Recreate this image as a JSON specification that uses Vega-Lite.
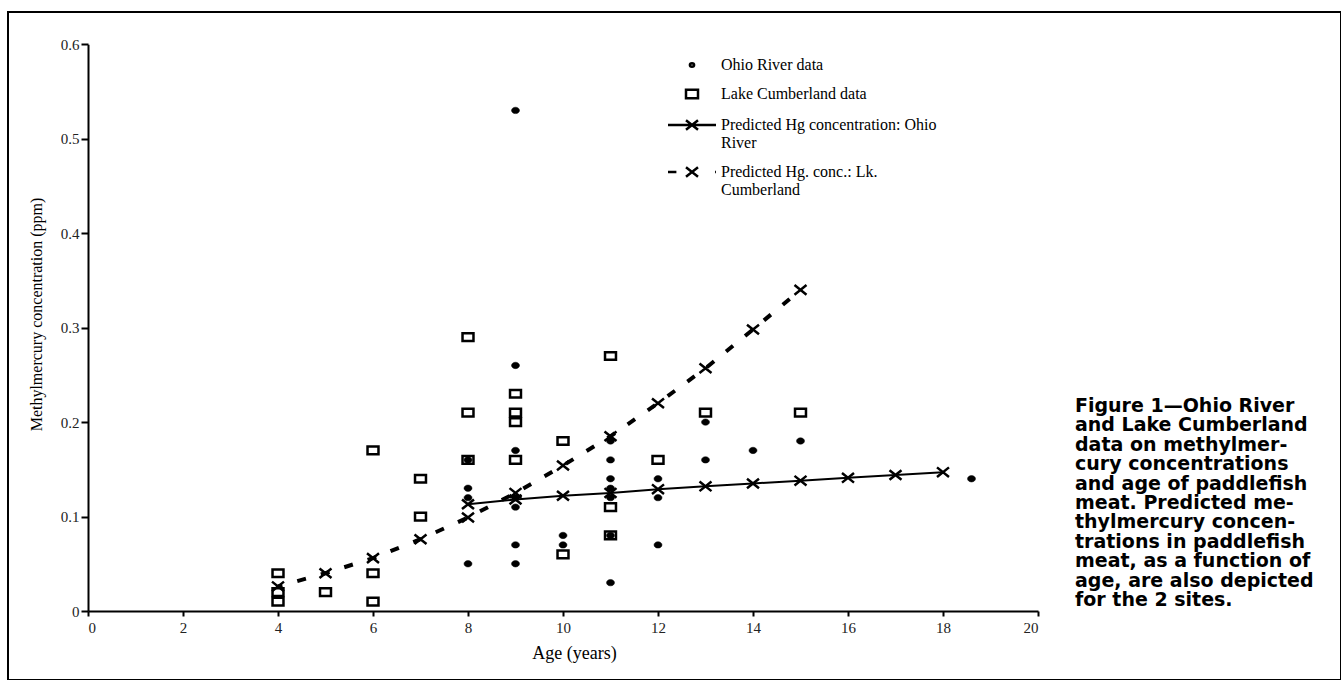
{
  "$schema": "https://vega.github.io/schema/vega-lite/v6.json",
  "autosize": "none",
  "padding": {"left": 8, "top": 12, "right": 0, "bottom": 0},
  "width": 1333,
  "height": 668,
  "background": "white",
  "config": {
    "view": {"stroke": "black", "strokeWidth": 2},
    "axis": {"grid": false, "domainColor": "black", "domainWidth": 2, "tickColor": "black", "tickWidth": 2, "labelColor": "#222", "labelFont": "Liberation Serif", "labelFontSize": 15, "titleFont": "Liberation Serif", "titleFontWeight": "normal", "titleColor": "black"}
  },
  "title": {
    "text": ["Figure 1\u2014Ohio River", "and Lake Cumberland", "data on methylmer-", "cury concentrations", "and age of paddlefish", "meat. Predicted me-", "thylmercury concen-", "trations in paddlefish", "meat, as a function of", "age, are also depicted", "for the 2 sites."],
    "orient": "top", "anchor": "start", "align": "left", "baseline": "top", "frame": "group",
    "offset": 0, "dx": 1067, "dy": 598,
    "font": "DejaVu Sans", "fontSize": 19, "fontWeight": "bold", "lineHeight": 19.4, "color": "black"
  },
  "data": {"values": [
    {"series": "Ohio River data", "kind": "observed", "age": 8, "hg": 0.16},
    {"series": "Ohio River data", "kind": "observed", "age": 8, "hg": 0.13},
    {"series": "Ohio River data", "kind": "observed", "age": 8, "hg": 0.12},
    {"series": "Ohio River data", "kind": "observed", "age": 8, "hg": 0.05},
    {"series": "Ohio River data", "kind": "observed", "age": 9, "hg": 0.53},
    {"series": "Ohio River data", "kind": "observed", "age": 9, "hg": 0.26},
    {"series": "Ohio River data", "kind": "observed", "age": 9, "hg": 0.17},
    {"series": "Ohio River data", "kind": "observed", "age": 9, "hg": 0.12},
    {"series": "Ohio River data", "kind": "observed", "age": 9, "hg": 0.11},
    {"series": "Ohio River data", "kind": "observed", "age": 9, "hg": 0.07},
    {"series": "Ohio River data", "kind": "observed", "age": 9, "hg": 0.05},
    {"series": "Ohio River data", "kind": "observed", "age": 10, "hg": 0.08},
    {"series": "Ohio River data", "kind": "observed", "age": 10, "hg": 0.07},
    {"series": "Ohio River data", "kind": "observed", "age": 11, "hg": 0.18},
    {"series": "Ohio River data", "kind": "observed", "age": 11, "hg": 0.16},
    {"series": "Ohio River data", "kind": "observed", "age": 11, "hg": 0.14},
    {"series": "Ohio River data", "kind": "observed", "age": 11, "hg": 0.13},
    {"series": "Ohio River data", "kind": "observed", "age": 11, "hg": 0.12},
    {"series": "Ohio River data", "kind": "observed", "age": 11, "hg": 0.08},
    {"series": "Ohio River data", "kind": "observed", "age": 11, "hg": 0.03},
    {"series": "Ohio River data", "kind": "observed", "age": 12, "hg": 0.14},
    {"series": "Ohio River data", "kind": "observed", "age": 12, "hg": 0.12},
    {"series": "Ohio River data", "kind": "observed", "age": 12, "hg": 0.07},
    {"series": "Ohio River data", "kind": "observed", "age": 13, "hg": 0.20},
    {"series": "Ohio River data", "kind": "observed", "age": 13, "hg": 0.16},
    {"series": "Ohio River data", "kind": "observed", "age": 14, "hg": 0.17},
    {"series": "Ohio River data", "kind": "observed", "age": 15, "hg": 0.18},
    {"series": "Ohio River data", "kind": "observed", "age": 18.6, "hg": 0.14},
    {"series": "Lake Cumberland data", "kind": "observed", "age": 4, "hg": 0.04},
    {"series": "Lake Cumberland data", "kind": "observed", "age": 4, "hg": 0.02},
    {"series": "Lake Cumberland data", "kind": "observed", "age": 4, "hg": 0.01},
    {"series": "Lake Cumberland data", "kind": "observed", "age": 5, "hg": 0.02},
    {"series": "Lake Cumberland data", "kind": "observed", "age": 6, "hg": 0.17},
    {"series": "Lake Cumberland data", "kind": "observed", "age": 6, "hg": 0.04},
    {"series": "Lake Cumberland data", "kind": "observed", "age": 6, "hg": 0.01},
    {"series": "Lake Cumberland data", "kind": "observed", "age": 7, "hg": 0.14},
    {"series": "Lake Cumberland data", "kind": "observed", "age": 7, "hg": 0.10},
    {"series": "Lake Cumberland data", "kind": "observed", "age": 8, "hg": 0.29},
    {"series": "Lake Cumberland data", "kind": "observed", "age": 8, "hg": 0.21},
    {"series": "Lake Cumberland data", "kind": "observed", "age": 8, "hg": 0.16},
    {"series": "Lake Cumberland data", "kind": "observed", "age": 9, "hg": 0.23},
    {"series": "Lake Cumberland data", "kind": "observed", "age": 9, "hg": 0.21},
    {"series": "Lake Cumberland data", "kind": "observed", "age": 9, "hg": 0.20},
    {"series": "Lake Cumberland data", "kind": "observed", "age": 9, "hg": 0.16},
    {"series": "Lake Cumberland data", "kind": "observed", "age": 10, "hg": 0.18},
    {"series": "Lake Cumberland data", "kind": "observed", "age": 10, "hg": 0.06},
    {"series": "Lake Cumberland data", "kind": "observed", "age": 11, "hg": 0.27},
    {"series": "Lake Cumberland data", "kind": "observed", "age": 11, "hg": 0.11},
    {"series": "Lake Cumberland data", "kind": "observed", "age": 11, "hg": 0.08},
    {"series": "Lake Cumberland data", "kind": "observed", "age": 12, "hg": 0.16},
    {"series": "Lake Cumberland data", "kind": "observed", "age": 13, "hg": 0.21},
    {"series": "Lake Cumberland data", "kind": "observed", "age": 15, "hg": 0.21},
    {"series": "Predicted Hg concentration: Ohio River", "kind": "predicted", "age": 8, "hg": 0.113},
    {"series": "Predicted Hg concentration: Ohio River", "kind": "predicted", "age": 9, "hg": 0.118},
    {"series": "Predicted Hg concentration: Ohio River", "kind": "predicted", "age": 10, "hg": 0.122},
    {"series": "Predicted Hg concentration: Ohio River", "kind": "predicted", "age": 11, "hg": 0.125},
    {"series": "Predicted Hg concentration: Ohio River", "kind": "predicted", "age": 12, "hg": 0.129},
    {"series": "Predicted Hg concentration: Ohio River", "kind": "predicted", "age": 13, "hg": 0.132},
    {"series": "Predicted Hg concentration: Ohio River", "kind": "predicted", "age": 14, "hg": 0.135},
    {"series": "Predicted Hg concentration: Ohio River", "kind": "predicted", "age": 15, "hg": 0.138},
    {"series": "Predicted Hg concentration: Ohio River", "kind": "predicted", "age": 16, "hg": 0.141},
    {"series": "Predicted Hg concentration: Ohio River", "kind": "predicted", "age": 17, "hg": 0.144},
    {"series": "Predicted Hg concentration: Ohio River", "kind": "predicted", "age": 18, "hg": 0.147},
    {"series": "Predicted Hg. conc.: Lk. Cumberland", "kind": "predicted", "age": 4, "hg": 0.026},
    {"series": "Predicted Hg. conc.: Lk. Cumberland", "kind": "predicted", "age": 5, "hg": 0.040},
    {"series": "Predicted Hg. conc.: Lk. Cumberland", "kind": "predicted", "age": 6, "hg": 0.056},
    {"series": "Predicted Hg. conc.: Lk. Cumberland", "kind": "predicted", "age": 7, "hg": 0.076},
    {"series": "Predicted Hg. conc.: Lk. Cumberland", "kind": "predicted", "age": 8, "hg": 0.099},
    {"series": "Predicted Hg. conc.: Lk. Cumberland", "kind": "predicted", "age": 9, "hg": 0.125},
    {"series": "Predicted Hg. conc.: Lk. Cumberland", "kind": "predicted", "age": 10, "hg": 0.154},
    {"series": "Predicted Hg. conc.: Lk. Cumberland", "kind": "predicted", "age": 11, "hg": 0.185},
    {"series": "Predicted Hg. conc.: Lk. Cumberland", "kind": "predicted", "age": 12, "hg": 0.220},
    {"series": "Predicted Hg. conc.: Lk. Cumberland", "kind": "predicted", "age": 13, "hg": 0.257},
    {"series": "Predicted Hg. conc.: Lk. Cumberland", "kind": "predicted", "age": 14, "hg": 0.298},
    {"series": "Predicted Hg. conc.: Lk. Cumberland", "kind": "predicted", "age": 15, "hg": 0.340}
  ]},
  "encoding": {
    "x": {"field": "age", "type": "quantitative",
      "scale": {"domain": [0, 20], "range": [80, 1030], "nice": false, "zero": false},
      "axis": {"title": "Age (years)", "offset": -69, "values": [0, 2, 4, 6, 8, 10, 12, 14, 16, 18, 20], "format": "~g", "tickSize": 5, "labelPadding": 4, "titleFontSize": 18, "titleX": 566, "titleY": 42, "titleBaseline": "middle", "titleAnchor": "middle"}},
    "y": {"field": "hg", "type": "quantitative",
      "scale": {"domain": [0, 0.6], "range": [599, 32.3], "nice": false, "zero": false},
      "axis": {"title": "Methylmercury concentration (ppm)", "offset": -80, "values": [0, 0.1, 0.2, 0.3, 0.4, 0.5, 0.6], "format": "~g", "tickSize": 7, "labelPadding": 2, "titleFontSize": 16, "titleX": -52, "titleY": 302, "titleBaseline": "middle", "titleAnchor": "middle"}}
  },
  "layer": [
    {
      "transform": [{"filter": "datum.series == 'Predicted Hg concentration: Ohio River'"}],
      "mark": {"type": "line", "color": "black", "strokeWidth": 2},
      "encoding": {}
    },
    {
      "transform": [{"filter": "datum.series == 'Predicted Hg. conc.: Lk. Cumberland'"}],
      "mark": {"type": "line", "color": "black", "strokeWidth": 4, "strokeDash": [9, 15.5], "strokeDashOffset": 4.5, "strokeCap": "butt"},
      "encoding": {}
    },
    {
      "transform": [{"filter": "datum.kind == 'predicted'"}],
      "mark": {"type": "point", "shape": "M-1,-0.8L1,0.8M-1,0.8L1,-0.8", "filled": false, "stroke": "black", "strokeWidth": 2.5, "size": 144, "opacity": 1},
      "encoding": {}
    },
    {
      "transform": [{"filter": "datum.kind == 'observed'"}],
      "mark": {"type": "point", "stroke": "black", "opacity": 1},
      "encoding": {
        "shape": {"field": "series", "type": "nominal",
          "scale": {"domain": ["Ohio River data", "Lake Cumberland data", "Predicted Hg concentration: Ohio River", "Predicted Hg. conc.: Lk. Cumberland"],
            "range": ["M-0.35,0A0.35,0.28 0 1,1 0.35,0A0.35,0.28 0 1,1 -0.35,0Z", "M-1,-0.7H1V0.7H-1Z", "M-4,0L4,0M-1,-0.8L1,0.8M-1,0.8L1,-0.8", "M-4,0L-2.6,0M-1,-0.8L1,0.8M-1,0.8L1,-0.8M3.85,0L4,0"]},
          "legend": {
            "orient": "none", "legendX": 676, "legendY": 45, "title": null, "padding": 0, "rowPadding": 11,
            "symbolSize": 144, "symbolStrokeWidth": 2.5, "symbolStrokeColor": "black",
            "labelFont": "Liberation Serif", "labelFontSize": 16, "labelColor": "black", "labelOffset": 21, "labelLimit": 500,
            "labelExpr": "datum.label == 'Predicted Hg concentration: Ohio River' ? ['Predicted Hg concentration: Ohio', 'River'] : datum.label == 'Predicted Hg. conc.: Lk. Cumberland' ? ['Predicted Hg. conc.: Lk.', 'Cumberland'] : datum.label"
          }},
        "size": {"condition": {"test": "datum.series == 'Ohio River data'", "value": 522}, "value": 120},
        "fill": {"condition": {"test": "datum.series == 'Ohio River data'", "value": "black"}, "value": "transparent"},
        "strokeWidth": {"condition": {"test": "datum.series == 'Ohio River data'", "value": 0.5}, "value": 2.5}
      }
    }
  ]
}
